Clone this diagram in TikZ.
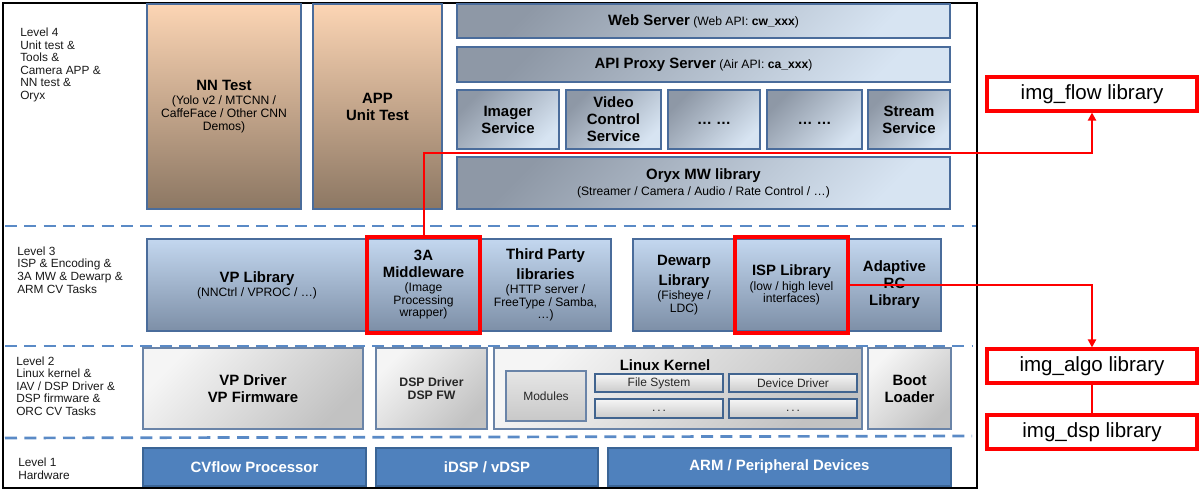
\documentclass[tikz,border=0pt]{standalone}
\usepackage{fontspec}
\setmainfont{Liberation Sans}
\usetikzlibrary{arrows.meta}
\definecolor{edgeblue}{HTML}{4A6C9B}
\definecolor{peachT}{HTML}{FCD5B4}
\definecolor{peachB}{HTML}{8C7763}
\definecolor{gbA}{HTML}{8E98A6}
\definecolor{gbB}{HTML}{D7E4F2}
\definecolor{lthT}{HTML}{C3D7EF}
\definecolor{lthB}{HTML}{7D8FA7}
\definecolor{silA}{HTML}{F5F5F5}
\definecolor{silB}{HTML}{C2C2C2}
\definecolor{silEdge}{HTML}{6A84A8}
\definecolor{fsEdge}{HTML}{41648F}
\definecolor{hwblue}{HTML}{4F81BD}
\definecolor{hwedge}{HTML}{3B6596}
\definecolor{sepblue}{HTML}{5A8AC6}
\newcommand\ttlfont{\fontsize{11.2}{12.75}\selectfont\bfseries}
\newcommand\subfont{\fontsize{9.1}{9.4}\selectfont}
\newcommand\Ttl[1]{{\ttlfont #1}}
\newcommand\mybox[7]{\node[#6, minimum width={(#4-#2)*0.75pt}, minimum height={(#5-#3)*0.75pt}] (#1) at ({(#2+#4)/2},{(#3+#5)/2}) {#7};}
\tikzset{
  frm/.style={draw=black, line width=0.8pt, inner sep=0pt},
  lvl/.style={anchor=west, align=left, font=\fontsize{8.9}{9.4}\selectfont, inner sep=0pt, text=black!90},
  bbase/.style={draw=edgeblue, line width=1.1pt, inner sep=0pt, align=center, font=\subfont},
  peach/.style={bbase, top color=peachT, bottom color=peachB, font=\fontsize{9.1}{9.75}\selectfont},
  grayblue/.style={bbase, top color=gbA, bottom color=gbB, shading angle=45},
  lthree/.style={bbase, top color=lthT, bottom color=lthB},
  silver/.style={bbase, draw=silEdge, top color=silB, bottom color=silA, shading angle=225},
  fsbox/.style={bbase, draw=fsEdge, line width=1.3pt, top color=silA, bottom color=silB!85, font=\fontsize{9}{10}\selectfont, text=black!85},
  modbox/.style={bbase, draw=silEdge, line width=1.3pt, top color=silA!70!silB, bottom color=silB!90, font=\fontsize{9}{10}\selectfont, text=black!85},
  hw/.style={bbase, fill=hwblue, draw=hwedge, text=white, font=\ttlfont},
  redbox/.style={draw=red, line width=2.3pt, inner sep=0pt},
  libbox/.style={draw=red, line width=2.3pt, fill=white, inner sep=0pt, font=\fontsize{15.4}{17}\selectfont},
  conn/.style={draw=red, line width=1.5pt},
  tip/.style={-{Triangle[length=6pt,width=6pt]}},
  lvlsep/.style={draw=sepblue, line width=2pt, dash pattern=on 9pt off 5.5pt},
  txt/.style={inner sep=0pt, align=center},
}
\begin{document}
\begin{tikzpicture}[x=0.75pt, y=-0.75pt]
\useasboundingbox (0,0) rectangle (1202,491);
\mybox{frame}{3}{3}{977}{488}{frm}{}
% level separators
\draw[lvlsep] (5,226) -- (976,226);
\draw[lvlsep] (5,346) -- (972,346);
\draw[lvlsep] (5,438) -- (972,436);
% level labels
\node[lvl] (l4) at (20,65) {Level 4\\Unit test \&\\Tools \&\\Camera APP \&\\NN test \&\\Oryx};
\node[lvl] (l3) at (17,270) {Level 3\\ISP \& Encoding \&\\3A MW \& Dewarp \&\\ARM CV Tasks};
\node[lvl] (l2) at (16,386) {Level 2\\Linux kernel \&\\IAV / DSP Driver \&\\DSP firmware \&\\ORC CV Tasks};
\node[lvl] (l1) at (18,469) {Level 1\\Hardware};
% level 4
\mybox{nn}{147}{4}{301}{209}{peach}{\Ttl{NN Test}\\[0.75pt](Yolo v2 / MTCNN /\\CaffeFace / Other CNN\\Demos)}
\mybox{app}{313}{4}{442}{209}{peach, font=\ttlfont}{APP\\Unit Test}
\mybox{web}{457}{4}{950}{38}{grayblue}{\Ttl{Web Server} (Web API: \textbf{cw\_xxx})}
\mybox{api}{457}{47}{950}{82}{grayblue}{\Ttl{API Proxy Server} (Air API: \textbf{ca\_xxx})}
\mybox{imager}{457}{90}{559}{149}{grayblue, font=\ttlfont}{Imager\\Service}
\mybox{video}{566}{90}{661}{149}{grayblue, font=\ttlfont}{Video\\Control\\Service}
\mybox{dotsa}{668}{90}{760}{149}{grayblue, font=\ttlfont, text height=7pt, text depth=0pt}{… …}
\mybox{dotsb}{767}{90}{862}{149}{grayblue, font=\ttlfont, text height=7pt, text depth=0pt}{… …}
\mybox{stream}{868}{90}{950}{149}{grayblue, font=\ttlfont}{Stream\\Service}
\mybox{oryx}{457}{157}{950}{209}{grayblue}{\Ttl{Oryx MW library}\\[2.6pt](Streamer / Camera / Audio / Rate Control / …)}
% level 3
\mybox{vplib}{147}{239}{367}{331}{lthree}{\Ttl{VP Library}\\[1.1pt](NNCtrl / VPROC / …)}
\mybox{mw}{367}{239}{480}{331}{lthree}{\Ttl{3A}\\[3.35pt]\Ttl{Middleware}\\[1.1pt](Image\\Processing\\wrapper)}
\mybox{third}{480}{239}{611}{331}{lthree}{\Ttl{Third Party}\\[3.35pt]\Ttl{libraries}\\[1.1pt](HTTP server /\\FreeType / Samba,\\…)}
\mybox{dewarp}{633}{239}{735}{331}{lthree}{\Ttl{Dewarp}\\[3.35pt]\Ttl{Library}\\[1.1pt](Fisheye /\\LDC)}
\mybox{isp}{735}{239}{848}{331}{lthree}{\Ttl{ISP Library}\\[1.9pt](low / high level\\interfaces)}
\mybox{arc}{848}{239}{941}{331}{lthree, font=\ttlfont}{Adaptive\\RC\\Library}
% level 2
\mybox{vpdrv}{143}{348}{363}{429}{silver, font=\ttlfont}{VP Driver\\VP Firmware}
\mybox{dspdrv}{376}{348}{487}{429}{silver, font=\fontsize{9.2}{9.2}\selectfont\bfseries, text=black!85}{DSP Driver\\DSP FW}
\mybox{linux}{494}{348}{862}{429}{silver}{}
\node[txt, font=\ttlfont] (lktitle) at (665,365) {Linux Kernel};
\mybox{modules}{506}{371}{586}{421}{modbox}{Modules}
\mybox{fs}{595}{374}{723}{392}{fsbox}{File System}
\mybox{dd}{729}{374}{857}{392}{fsbox}{Device Driver}
\mybox{ka}{595}{399}{723}{418}{fsbox, text height=5pt, text depth=0pt}{.\,.\,.}
\mybox{kb}{729}{399}{857}{418}{fsbox, text height=5pt, text depth=0pt}{.\,.\,.}
\mybox{boot}{868}{348}{951}{429}{silver, font=\ttlfont}{Boot\\Loader}
% level 1
\mybox{cvflow}{143}{448}{366}{486}{hw}{CVflow Processor}
\mybox{idsp}{376}{448}{598}{486}{hw}{iDSP / vDSP}
\mybox{arm}{608}{448}{951}{486}{hw}{ARM / Peripheral Devices}
% red highlights
\mybox{rmw}{367}{237}{480}{333}{redbox}{}
\mybox{risp}{735}{237}{848}{333}{redbox}{}
% libraries
\mybox{flow}{987}{77}{1197}{111}{libbox}{img\_flow library}
\mybox{algo}{987}{349}{1197}{383}{libbox}{img\_algo library}
\mybox{dsp}{987}{415}{1197}{449}{libbox}{img\_dsp library}
% connectors
\draw[conn, tip] (rmw.north) -- ++(0,-82) -| (flow.south);
\draw[conn, tip] (risp.east) -| (algo.north);
\draw[conn] (algo.south) -- (dsp.north);
\end{tikzpicture}
\end{document}
